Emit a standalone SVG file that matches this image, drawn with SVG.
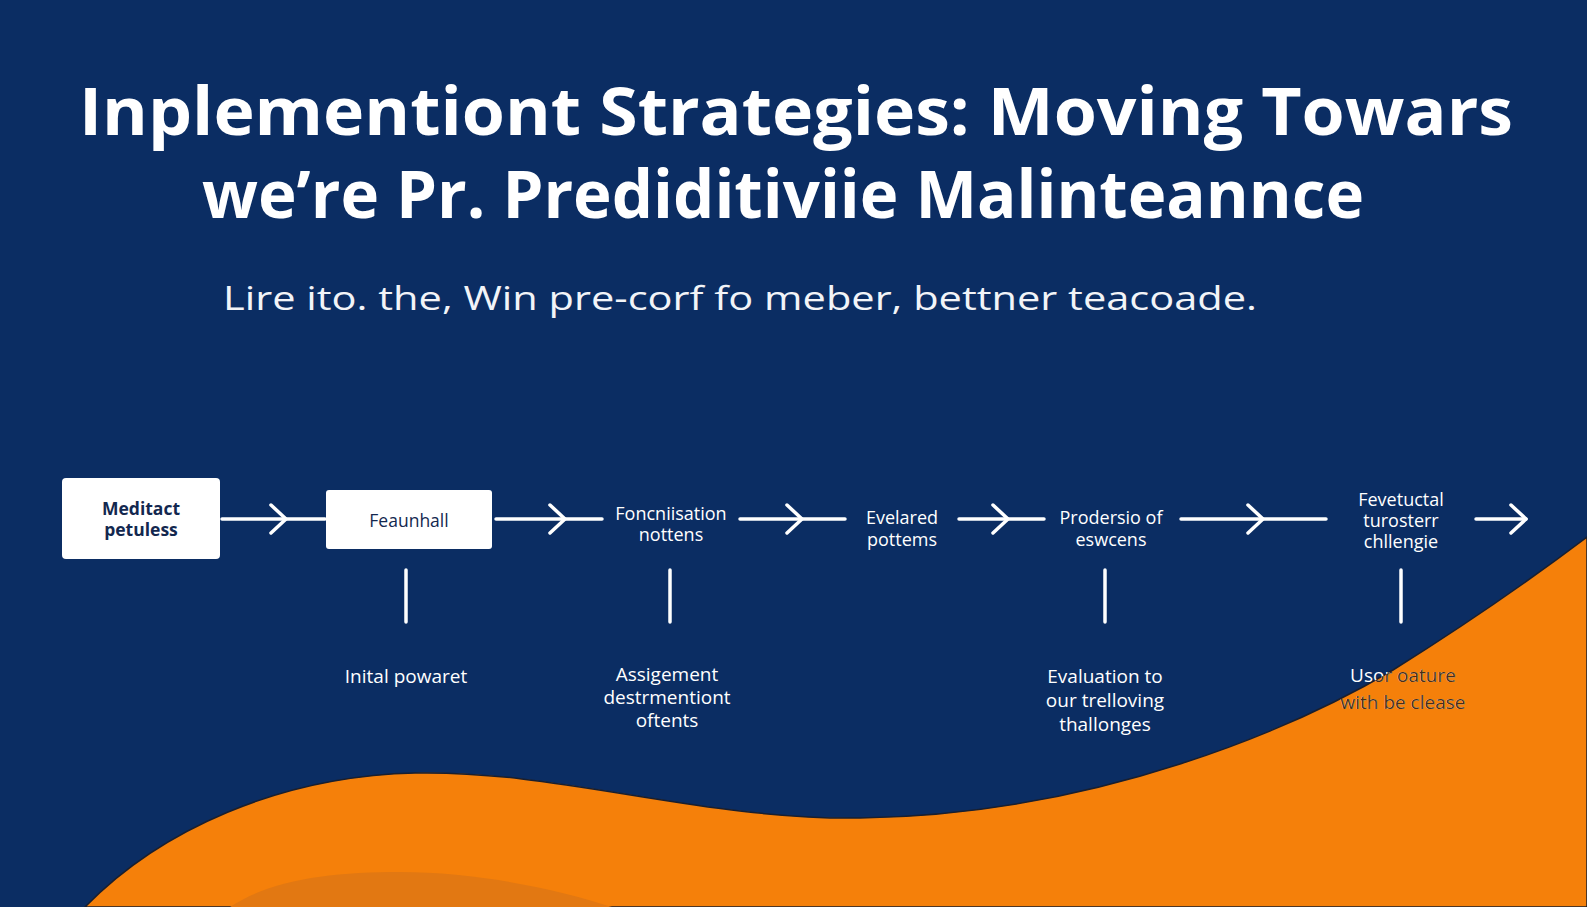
<svg xmlns="http://www.w3.org/2000/svg" width="1587" height="907" viewBox="0 0 1587 907">
<style>
.title{font-family:"Open Sans","Liberation Sans",sans-serif;font-weight:700;font-size:67px;fill:#ffffff}
.sub{font-family:"Open Sans","Liberation Sans",sans-serif;font-weight:400;font-size:33px;fill:#f2f4f8}
.lbl{font-family:"Open Sans","Liberation Sans",sans-serif;font-size:18px;fill:#ffffff;text-anchor:middle}
.lb2{font-family:"Open Sans","Liberation Sans",sans-serif;font-size:19px;fill:#ffffff;text-anchor:middle}
.boxt{font-family:"Open Sans","Liberation Sans",sans-serif;font-size:17.5px;fill:#13284f;text-anchor:middle}
.box{fill:#ffffff}
.ln{stroke:#ffffff;stroke-width:3.5;fill:none;stroke-linecap:round;stroke-linejoin:round}
.dk{fill:#4a2e14}
</style>
<defs>
<path id="wave" d="M1587 537 C1530 580 1460 628 1393 670 C1300 725 1100 815 860 818 C700 820 560 770 415 773 C280 776 160 830 85 907 L1587 907 Z"/>
<clipPath id="waveClip"><use href="#wave"/></clipPath>
</defs>
<rect width="1587" height="907" fill="#0b2d63"/>
<g id="background-wave">
<use href="#wave" fill="#f5800a" stroke="#1a1f2e" stroke-width="1.5"/>
<path d="M230 907 C270 880 330 872 400 872 C480 872 560 890 612 907 Z" fill="#e27812"/>
</g>
<g id="title">
<text class="title" x="79" y="135" textLength="1434" lengthAdjust="spacingAndGlyphs">Inplementiont Strategies:  Moving Towars</text>
<text class="title" x="202" y="218" textLength="1162" lengthAdjust="spacingAndGlyphs">we’re Pr. Prediditiviie Malinteannce</text>
<text class="sub" x="223" y="310" textLength="1034" lengthAdjust="spacingAndGlyphs">Lire ito. the, Win pre-corf fo meber, bettner teacoade.</text>
</g>
<g id="connectors">
<line class="ln" x1="222" y1="519" x2="325" y2="519"/>
<polyline class="ln" points="271,505 286,519 271,533"/>
<line class="ln" x1="496" y1="519" x2="602" y2="519"/>
<polyline class="ln" points="550,505 565,519 550,533"/>
<line class="ln" x1="740" y1="519" x2="845" y2="519"/>
<polyline class="ln" points="787,505 802,519 787,533"/>
<line class="ln" x1="959" y1="519" x2="1044" y2="519"/>
<polyline class="ln" points="993,505 1008,519 993,533"/>
<line class="ln" x1="1181" y1="519" x2="1326" y2="519"/>
<polyline class="ln" points="1248,505 1263,519 1248,533"/>
<line class="ln" x1="1476" y1="519" x2="1526" y2="519"/>
<polyline class="ln" points="1511,505 1526,519 1511,533"/>
<line class="ln" x1="406" y1="570" x2="406" y2="622"/>
<line class="ln" x1="670" y1="570" x2="670" y2="622"/>
<line class="ln" x1="1105" y1="570" x2="1105" y2="622"/>
<line class="ln" x1="1401" y1="570" x2="1401" y2="622"/>
</g>
<g id="node-meditact">
<rect class="box" x="62" y="478" width="158" height="81" rx="4"/>
<text class="boxt" x="141" y="515" font-weight="700">Meditact</text>
<text class="boxt" x="141" y="536" font-weight="700">petuless</text>
</g>
<g id="node-feaunhall">
<rect class="box" x="326" y="490" width="166" height="59" rx="3"/>
<text class="boxt" x="409" y="527" font-size="20">Feaunhall</text>
</g>
<g id="node-foncniisation">
<text class="lbl" x="671" y="520">Foncniisation</text>
<text class="lbl" x="671" y="541">nottens</text>
</g>
<g id="node-evelared">
<text class="lbl" x="902" y="524">Evelared</text>
<text class="lbl" x="902" y="546">pottems</text>
</g>
<g id="node-prodersio">
<text class="lbl" x="1111" y="524">Prodersio of</text>
<text class="lbl" x="1111" y="546">eswcens</text>
</g>
<g id="node-fevetuctal">
<text class="lbl" x="1401" y="506">Fevetuctal</text>
<text class="lbl" x="1401" y="527">turosterr</text>
<text class="lbl" x="1401" y="548">chllengie</text>
</g>
<g id="label-inital">
<text class="lb2" x="406" y="683">Inital powaret</text>
</g>
<g id="label-assigement">
<text class="lb2" x="667" y="681">Assigement</text>
<text class="lb2" x="667" y="704">destrmentiont</text>
<text class="lb2" x="667" y="727">oftents</text>
</g>
<g id="label-evaluation">
<text class="lb2" x="1105" y="683">Evaluation to</text>
<text class="lb2" x="1105" y="707">our trelloving</text>
<text class="lb2" x="1105" y="731">thallonges</text>
</g>
<g id="label-usor">
<text class="lb2" x="1403" y="682" font-size="20.5">Usor oature</text>
<text class="lb2" x="1403" y="709" font-size="20.5">with be clease</text>
<g clip-path="url(#waveClip)">
<text class="lb2 dk" x="1403" y="682" font-size="20.5">Usor oature</text>
<text class="lb2 dk" x="1403" y="709" font-size="20.5">with be clease</text>
</g>
</g>
</svg>
